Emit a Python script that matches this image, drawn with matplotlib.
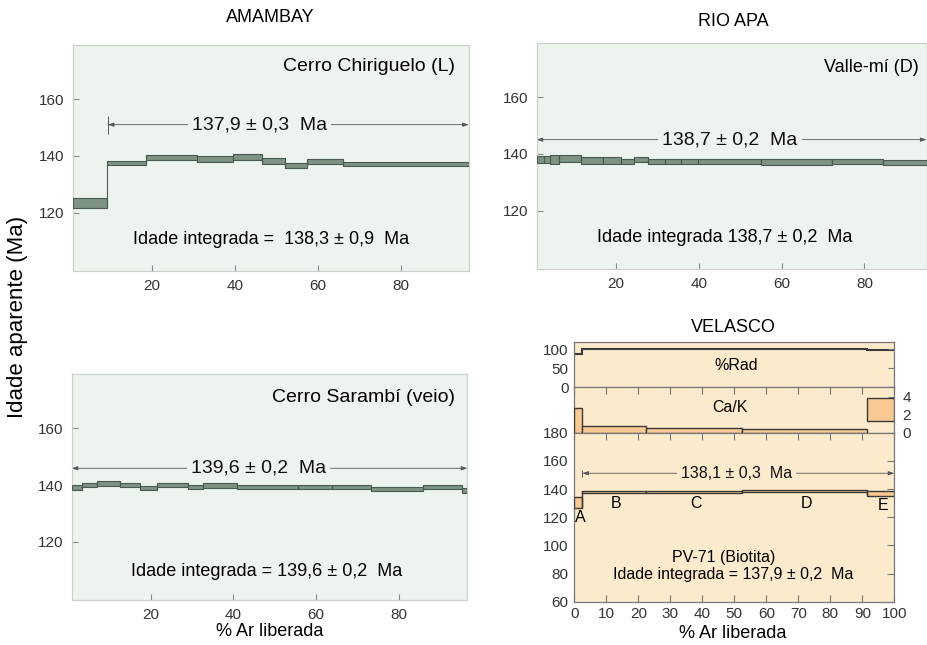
import matplotlib
matplotlib.use('Agg')
import matplotlib.pyplot as plt
from matplotlib.patches import Rectangle

plt.rcParams['font.family'] = ['Liberation Sans', 'DejaVu Sans']

# ---------------- data ----------------
# AMAMBAY - Cerro Chiriguelo (L)
chir_edges = [1.1, 9.3, 18.6, 31.0, 39.5, 46.5, 52.2, 57.3, 66.0, 96.4]
chir_age = [123.5, 137.5, 139.4, 138.8, 139.7, 138.3, 136.5, 138.0, 137.1]
chir_err = [1.75, 0.85, 1.0, 1.05, 1.0, 1.0, 0.95, 0.9, 0.85]

# RIO APA - Valle-mi (D)
valle_edges = [0.84, 2.6, 4.06, 6.3, 11.5, 16.8, 21.1, 24.4, 27.8, 31.8, 35.7,
               39.9, 55.0, 72.2, 84.6, 95.0]
valle_age = [138.07, 138.07, 138.0, 138.3, 137.65, 137.65, 137.3, 137.95,
             137.24, 137.24, 137.24, 137.24, 137.0, 137.3, 136.9]
valle_err = [1.18, 1.18, 1.47, 1.18, 1.12, 1.12, 0.76, 0.82,
             0.82, 0.82, 0.82, 0.82, 1.05, 0.76, 0.94]

# AMAMBAY - Cerro Sarambi (veio)
sar_edges = [0.94, 3.35, 7.1, 12.6, 17.4, 21.6, 29.1, 32.7, 40.8, 55.7, 63.9,
             73.2, 85.7, 95.1, 96.5]
sar_age = [139.2, 140.0, 140.6, 140.0, 139.0, 140.0, 139.4, 139.8, 139.3,
           139.3, 139.3, 138.5, 139.2, 138.0]
sar_err = [0.9, 0.8, 0.8, 0.8, 0.7, 0.8, 0.7, 0.8, 0.6, 0.6, 0.6, 0.7, 0.7, 0.8]

# VELASCO - PV-71 (Biotita)
vel_edges = [0, 2.5, 22.4, 52.5, 91.6, 100]
vel_step_names = ['A', 'B', 'C', 'D', 'E']
vel_rad = [88, 101, 101, 101, 99]
vel_cak_lo = [0, 0, 0, 0, 1.33]
vel_cak_hi = [2.8, 0.74, 0.48, 0.37, 3.89]
vel_age_lo = [126.6, 136.9, 137.4, 137.6, 135.2]
vel_age_hi = [134.5, 138.8, 138.6, 139.3, 138.8]

# plateau / integrated ages (labels)
plateaus = {
    'chir': ('137,9 ± 0,3  Ma', 9.4, 96.4, 151.0),
    'valle': ('138,7 ± 0,2  Ma', 0.84, 95.0, 145.0),
    'sar': ('139,6 ± 0,2  Ma', 0.94, 96.5, 145.9),
    'vel': ('138,1 ± 0,3  Ma', 2.5, 100.0, 151.2),
}

# ---------------- style ----------------
GREEN_BG = '#edf4ee'
STEP_FACE = '#7e9384'
STEP_EDGE = '#4b5a50'
ORANGE_BG = '#fbeacb'
ORANGE_FACE = '#f8c993'
DARK = '#3a3a3a'
W, H = 927, 645

fig = plt.figure(figsize=(W / 100, H / 100), dpi=100)


def box(l, t, r, b):
    return [l / W, 1 - b / H, (r - l) / W, (b - t) / H]


def green_axes(rect, xlim):
    ax = fig.add_axes(rect)
    ax.set_facecolor(GREEN_BG)
    ax.set_xlim(*xlim)
    ax.set_ylim(99.5, 179.1)
    ax.set_xticks([20, 40, 60, 80])
    ax.set_yticks([120, 140, 160])
    ax.tick_params(direction='in', length=4, width=0.8, color='#888888',
                   labelsize=11, labelcolor='#333333', pad=6)
    for s in ax.spines.values():
        s.set_color('#c9d3ca')
        s.set_linewidth(0.9)
    return ax


def draw_steps(ax, edges, ages, errs):
    for i in range(len(ages)):
        ax.add_patch(Rectangle((edges[i], ages[i] - errs[i]), edges[i + 1] - edges[i],
                               2 * errs[i], facecolor=STEP_FACE, edgecolor=STEP_EDGE,
                               lw=0.8, zorder=3))
    for i in range(1, len(ages)):
        lo = min(ages[i - 1] - errs[i - 1], ages[i] - errs[i])
        hi = max(ages[i - 1] + errs[i - 1], ages[i] + errs[i])
        ax.vlines(edges[i], lo, hi, color=STEP_EDGE, lw=0.8, zorder=3)


def plateau(ax, key, bg, fs, bar=3.2, tx=None):
    label, x0, x1, y = plateaus[key]
    ax.annotate('', xy=(x0, y), xytext=(x1, y),
                arrowprops=dict(arrowstyle='<|-|>,head_length=0.35,head_width=0.12',
                                lw=0.6, color='#555555', shrinkA=0, shrinkB=0),
                zorder=2)
    ax.vlines([x0, x1], y - bar, y + bar, color='#555555', lw=0.7, zorder=2)
    if tx is None:
        tx = (x0 + x1) / 2
    ax.text(tx, y, label, ha='center', va='center', fontsize=fs, color='#111111',
            bbox=dict(facecolor=bg, edgecolor='none', pad=3), zorder=4)


# ---- AMAMBAY top (Cerro Chiriguelo)
ax1 = green_axes(box(73, 45, 468.7, 270.7), (1.0, 96.4))
draw_steps(ax1, chir_edges, chir_age, chir_err)
plateau(ax1, 'chir', GREEN_BG, 14, tx=45.9)
ax1.text(93.1, 171.4, 'Cerro Chiriguelo (L)', ha='right', va='center', fontsize=14)
ax1.text(48.8, 110.4, 'Idade integrada =  138,3 ± 0,9  Ma', ha='center', va='center',
         fontsize=13)

# ---- RIO APA (Valle-mi)
ax2 = green_axes(box(536.7, 42.7, 926.5, 269), (0.84, 95.0))
draw_steps(ax2, valle_edges, valle_age, valle_err)
plateau(ax2, 'valle', GREEN_BG, 14, tx=47.5)
ax2.text(93.2, 170.4, 'Valle-mí (D)', ha='right', va='center', fontsize=13)
ax2.text(46.3, 110.5, 'Idade integrada 138,7 ± 0,2  Ma', ha='center', va='center',
         fontsize=13)

# ---- AMAMBAY bottom (Cerro Sarambi)
ax3 = green_axes(box(71.7, 374, 467.3, 600), (0.94, 96.5))
draw_steps(ax3, sar_edges, sar_age, sar_err)
plateau(ax3, 'sar', GREEN_BG, 14, tx=46.0)
ax3.text(93.5, 170.9, 'Cerro Sarambí (veio)', ha='right', va='center', fontsize=14)
ax3.text(48.1, 109.7, 'Idade integrada = 139,6 ± 0,2  Ma', ha='center', va='center',
         fontsize=13)

# ---- VELASCO
L, R = 574.3, 894.3
axr = fig.add_axes(box(L, 342.3, R, 387.3))
axc = fig.add_axes(box(L, 387.3, R, 432.7))
axa = fig.add_axes(box(L, 432.7, R, 601.7))
for ax in (axr, axc, axa):
    ax.set_facecolor(ORANGE_BG)
    ax.set_xlim(0, 100)
    for s in ax.spines.values():
        s.set_color('#777777')
        s.set_linewidth(0.9)
    ax.set_xticks(range(0, 101, 10))
    ax.tick_params(labelsize=11, labelcolor='#333333', color='#777777')

# %Rad
axr.stairs(vel_rad, vel_edges, color=DARK, lw=1.5, baseline=None)
axr.set_ylim(0, 118)
axr.set_yticks([0, 50, 100])
axr.tick_params(axis='x', bottom=False, labelbottom=False)
axr.tick_params(axis='y', left=False, right=True, direction='in', length=4, pad=4)
axr.text(50.7, 56, '%Rad', ha='center', va='center', fontsize=11.5)

# Ca/K
for i in range(len(vel_cak_lo)):
    axc.add_patch(Rectangle((vel_edges[i], vel_cak_lo[i]), vel_edges[i + 1] - vel_edges[i],
                            vel_cak_hi[i] - vel_cak_lo[i], facecolor=ORANGE_FACE,
                            edgecolor=DARK, lw=1.0, zorder=3))
axc.set_ylim(0, 5.05)
axc.set_yticks([0, 2, 4])
axc.yaxis.tick_right()
axc.tick_params(axis='y', left=False, right=True, direction='in', length=4, pad=6)
axc.tick_params(axis='x', bottom=False, labelbottom=False, top=True, direction='in',
                length=5)
axc.text(48.7, 2.82, 'Ca/K', ha='center', va='center', fontsize=11.5)

# Age spectrum
for i in range(len(vel_age_lo)):
    axa.add_patch(Rectangle((vel_edges[i], vel_age_lo[i]), vel_edges[i + 1] - vel_edges[i],
                            vel_age_hi[i] - vel_age_lo[i], facecolor=ORANGE_FACE,
                            edgecolor=DARK, lw=1.0, zorder=3))
for i in range(1, len(vel_age_lo)):
    lo = min(vel_age_lo[i - 1], vel_age_lo[i])
    hi = max(vel_age_hi[i - 1], vel_age_hi[i])
    axa.vlines(vel_edges[i], lo, hi, color=DARK, lw=1.0, zorder=3)
axa.set_ylim(60, 180)
axa.set_yticks(range(60, 181, 20))
axa.tick_params(axis='y', left=False, right=True, direction='in', length=5, pad=4)
axa.tick_params(axis='x', top=True, bottom=True, direction='in', length=5, pad=4)
plateau(axa, 'vel', ORANGE_BG, 11.5, bar=2.5, tx=50.7)
step_label_pos = [(2.0, 119.5), (13.2, 129.8), (38.0, 130.0), (72.6, 130.0), (96.4, 128.0)]
for name, (lx, ly) in zip(vel_step_names, step_label_pos):
    axa.text(lx, ly, name, ha='center', va='center', fontsize=11.5)
axa.text(46.8, 91.2, 'PV-71 (Biotita)', ha='center', va='center', fontsize=11.5)
axa.text(49.5, 79.3, 'Idade integrada = 137,9 ± 0,2  Ma', ha='center', va='center',
         fontsize=11.5)

# ---- figure texts
fig.text(270 / W, 1 - 18 / H, 'AMAMBAY', ha='center', va='center', fontsize=13)
fig.text(733 / W, 1 - 22 / H, 'RIO APA', ha='center', va='center', fontsize=13)
fig.text(733 / W, 1 - 327 / H, 'VELASCO', ha='center', va='center', fontsize=13)
fig.text(270 / W, 1 - 632 / H, '% Ar liberada', ha='center', va='center', fontsize=13)
fig.text(733 / W, 1 - 634 / H, '% Ar liberada', ha='center', va='center', fontsize=13)
fig.text(18 / W, 1 - 317 / H, 'Idade aparente (Ma)', ha='center', va='center',
         rotation=90, fontsize=16)

fig.savefig('out.png', dpi=100, facecolor='white')
